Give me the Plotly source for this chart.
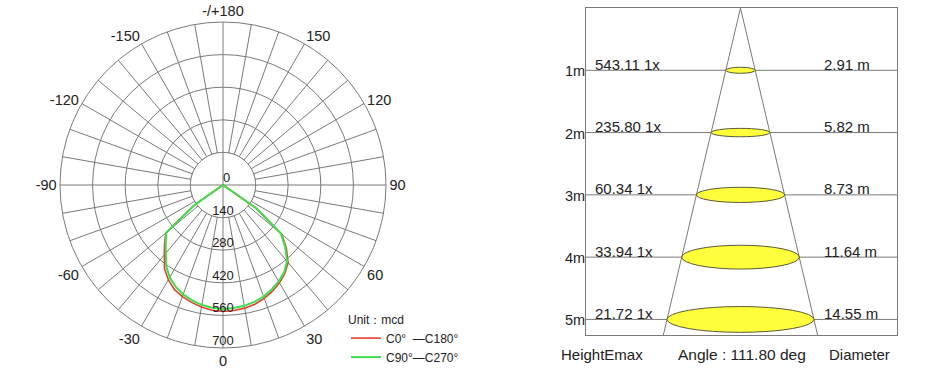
import plotly.graph_objects as go

# ---------------- data ----------------
# polar intensity distribution (mcd), angle in degrees (0 = straight down)
angles = list(range(-90, 95, 5))
c0_c180 = [0, 0, 0, 0, 0, 0, 0, 150, 320, 355, 392, 438, 470, 495, 510, 522, 532, 540,
           543, 541, 537, 530, 518, 503, 485, 463, 435, 385, 330, 170, 0, 0, 0, 0, 0, 0, 0]
c90_c270 = [0, 0, 0, 0, 0, 0, 0, 145, 318, 348, 382, 425, 458, 482, 500, 513, 523, 529,
            532, 530, 527, 520, 510, 495, 478, 458, 428, 378, 325, 175, 0, 0, 0, 0, 0, 0, 0]
radial_ticks = [0, 140, 280, 420, 560, 700]
angle_ticks = list(range(0, 360, 10))

# beam diagram
heights = [1, 2, 3, 4, 5]
emax = [543.11, 235.80, 60.34, 33.94, 21.72]
diameters = [2.91, 5.82, 8.73, 11.64, 14.55]
beam_angle = 111.80

# ---------------- styles ----------------
GRID = "#7a7a7a"
TXT = "#222222"
FONT = "Liberation Sans, Arial, sans-serif"
RED = "#e2412f"
GREEN = "#3ede4c"
ELL_HALF_PX = [3, 4.2, 7.6, 11.9, 12.9]
FS = 15

fig = go.Figure()

# ---- polar ----
def ang_label(v):
    if v % 30:
        return ""
    if v == 180:
        return "-/+180"
    return str(v if v < 180 else v - 360)

disc_theta = list(range(0, 361, 2))
fig.add_trace(go.Scatterpolar(r=[radial_ticks[1]] * len(disc_theta), theta=disc_theta,
                              mode="lines", fill="toself", fillcolor="white",
                              line=dict(color=GRID, width=1), hoverinfo="skip",
                              showlegend=False))
for a in (0, 90):
    fig.add_trace(go.Scatterpolar(r=[radial_ticks[1], radial_ticks[1]], theta=[a, a + 180],
                                  mode="lines", line=dict(color=GRID, width=1),
                                  hoverinfo="skip", showlegend=False))

fig.add_trace(go.Scatterpolar(r=c0_c180, theta=angles, mode="lines",
                              line=dict(color=RED, width=1.6), name="C0°  —C180°"))
fig.add_trace(go.Scatterpolar(r=c90_c270, theta=angles, mode="lines",
                              line=dict(color=GREEN, width=2), name="C90°—C270°"))

# radial value labels along the 0° direction
fig.add_trace(go.Scatterpolar(r=[max(v - 27, 0) for v in radial_ticks[1:]],
                              theta=[0] * (len(radial_ticks) - 1),
                              mode="text", text=[str(v) for v in radial_ticks[1:]],
                              textposition="middle center",
                              textfont=dict(size=13, color=TXT, family=FONT),
                              hoverinfo="skip", showlegend=False))
fig.add_trace(go.Scatterpolar(r=[0], theta=[0], mode="text", text=[str(radial_ticks[0])],
                              textposition="top right",
                              textfont=dict(size=13, color=TXT, family=FONT),
                              hoverinfo="skip", showlegend=False))

W, H = 930, 374
fig.update_layout(
    polar=dict(
        domain=dict(x=[60 / W, 386 / W], y=[1 - 348 / H, 1 - 22 / H]),
        bgcolor="white",
        angularaxis=dict(rotation=-90, direction="counterclockwise", tickmode="array",
                         tickvals=angle_ticks, ticktext=[ang_label(v) for v in angle_ticks],
                         showgrid=True, gridcolor=GRID, gridwidth=1,
                         showline=True, linecolor=GRID, linewidth=1, ticks="",
                         tickfont=dict(size=14.5, color=TXT, family=FONT)),
        radialaxis=dict(range=[0, radial_ticks[-1]], tickvals=radial_ticks[1:],
                        showticklabels=False, showline=False, ticks="",
                        showgrid=True, gridcolor=GRID, gridwidth=1),
    )
)

# ---- beam cone diagram ----
ratio = diameters[-1] / 2 / heights[-1]
y_bottom = 5.25
fig.add_trace(go.Scatter(x=[-ratio * y_bottom, 0, ratio * y_bottom], y=[y_bottom, 0, y_bottom],
                         mode="lines", line=dict(color=GRID, width=1), xaxis="x", yaxis="y",
                         hoverinfo="skip", showlegend=False))

shapes = []
annotations = []
for h, e, d, eh in zip(heights, emax, diameters, ELL_HALF_PX):
    shapes.append(dict(type="line", xref="x domain", yref="y", x0=0, x1=1, y0=h, y1=h,
                       line=dict(color=GRID, width=1), layer="above"))
    shapes.append(dict(type="circle", xref="x", yref="y", ysizemode="pixel", yanchor=h,
                       x0=-d / 2, x1=d / 2, y0=-eh, y1=eh, fillcolor="#ffff3c",
                       line=dict(color="#5a5a3a", width=1), layer="above"))
    annotations.append(dict(xref="x domain", yref="y", x=0.024, y=h, xanchor="left",
                            yanchor="middle", yshift=6, showarrow=False,
                            text=f"{e:.2f} 1x", font=dict(size=FS, color=TXT, family=FONT)))
    annotations.append(dict(xref="x domain", yref="y", x=0.76, y=h, xanchor="left",
                            yanchor="middle", yshift=6, showarrow=False,
                            text=f"{d:.2f} m", font=dict(size=FS, color=TXT, family=FONT)))
    annotations.append(dict(xref="x domain", yref="y", x=0, y=h, xanchor="right",
                            yanchor="middle", yshift=-1, xshift=1, showarrow=False,
                            text=f"{h}m", font=dict(size=14.5, color=TXT, family=FONT)))

annotations += [
    dict(xref="paper", yref="paper", x=559 / W, y=1 - 354 / H, xanchor="left", yanchor="middle",
         showarrow=False, text="HeightEmax", font=dict(size=FS, color=TXT, family=FONT)),
    dict(xref="paper", yref="paper", x=742 / W, y=1 - 354 / H, xanchor="center", yanchor="middle",
         showarrow=False, text=f"Angle : {beam_angle:.2f} deg",
         font=dict(size=15.5, color=TXT, family=FONT)),
    dict(xref="paper", yref="paper", x=827 / W, y=1 - 354 / H, xanchor="left", yanchor="middle",
         showarrow=False, text="Diameter", font=dict(size=FS, color=TXT, family=FONT)),
]

fig.update_layout(
    xaxis=dict(domain=[586 / W, 897 / W], range=[-15.3, 15.5], showgrid=False, zeroline=False,
               showticklabels=False, ticks="", showline=True, mirror=True, linecolor=GRID,
               linewidth=1, fixedrange=True),
    yaxis=dict(domain=[1 - 335 / H, 1 - 8 / H], range=[y_bottom, 0], showgrid=False,
               zeroline=False, showticklabels=False, ticks="", showline=True, mirror=True,
               linecolor=GRID, linewidth=1, fixedrange=True),
    shapes=shapes,
    annotations=annotations,
    width=W, height=H,
    margin=dict(l=0, r=0, t=0, b=0),
    paper_bgcolor="white", plot_bgcolor="white",
    font=dict(family=FONT, color=TXT),
    showlegend=True,
    legend=dict(x=346 / W, y=1 - 308 / H, xanchor="left", yanchor="top",
                bgcolor="rgba(0,0,0,0)", tracegroupgap=0, itemwidth=30,
                title=dict(text="Unit：mcd", font=dict(size=12, color=TXT, family=FONT)),
                font=dict(size=12, color=TXT, family=FONT)),
)

fig.write_html("out.html", config={"displayModeBar": False},
               post_script="document.body.style.margin='0';document.body.style.overflow='hidden';")
